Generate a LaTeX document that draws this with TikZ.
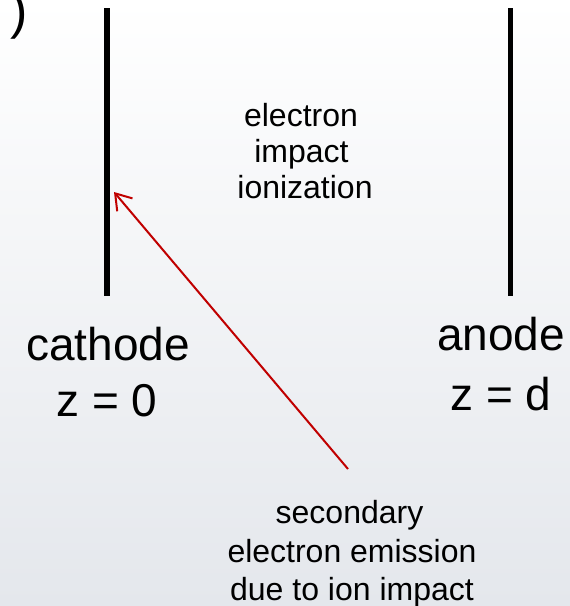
\documentclass[tikz,border=0pt]{standalone}
\usepackage{fontspec}
\setmainfont{Liberation Sans}
\usetikzlibrary{arrows.meta}
\definecolor{arrowred}{RGB}{192,0,0}
\definecolor{bgbottom}{RGB}{228,231,236}
\definecolor{bgmid}{RGB}{251,251,251}
\begin{document}
\begin{tikzpicture}[x=1pt,y=-1pt,
  plate/.style={line width=5.5pt,line cap=butt,black},
  bigtxt/.style={inner sep=0pt,anchor=base,font=\fontsize{46}{54}\selectfont},
  smalltxt/.style={inner sep=0pt,anchor=base,font=\fontsize{32}{37}\selectfont},
  redarrow/.style={draw=arrowred,line width=2pt,-{Straight Barb[length=15pt,width=20pt]}}]
  \shade[top color=white,middle color=bgmid,bottom color=bgbottom] (0,0) rectangle (570,606);
  \useasboundingbox (0,0) rectangle (570,606);
  % partial parenthesis at top left
  \node[inner sep=0pt,anchor=base west,font=\fontsize{52}{60}\selectfont] (paren) at (10,28) {)};
  % plates
  \coordinate (c1) at (107,8);
  \coordinate (c2) at (107,296);
  \coordinate (a1) at (510.5,8);
  \coordinate (a2) at (510.5,296);
  \draw[plate] (c1) -- (c2);
  \draw[plate] (a1) -- (a2);
  % middle text
  \node[smalltxt] (eii1) at (301,126) {electron};
  \node[smalltxt] (eii2) at (301.5,162) {impact};
  \node[smalltxt] (eii3) at (305,198) {ionization};
  % cathode / anode labels
  \node[bigtxt] (cath) at (108,360) {cathode};
  \node[bigtxt] (cathz) at (107,416) {z = 0};
  \node[bigtxt] (anod) at (501,350) {anode};
  \node[bigtxt] (anodz) at (501,410) {z = d};
  % secondary emission text
  \node[smalltxt] (sec1) at (349.5,523) {secondary};
  \node[smalltxt] (sec2) at (352,562) {electron emission};
  \node[smalltxt] (sec3) at (352,600) {due to ion impact};
  % arrow
  \coordinate (src) at (348,469);
  \coordinate (tip) at (114,192);
  \draw[redarrow] (src) -- (tip);
\end{tikzpicture}
\end{document}
